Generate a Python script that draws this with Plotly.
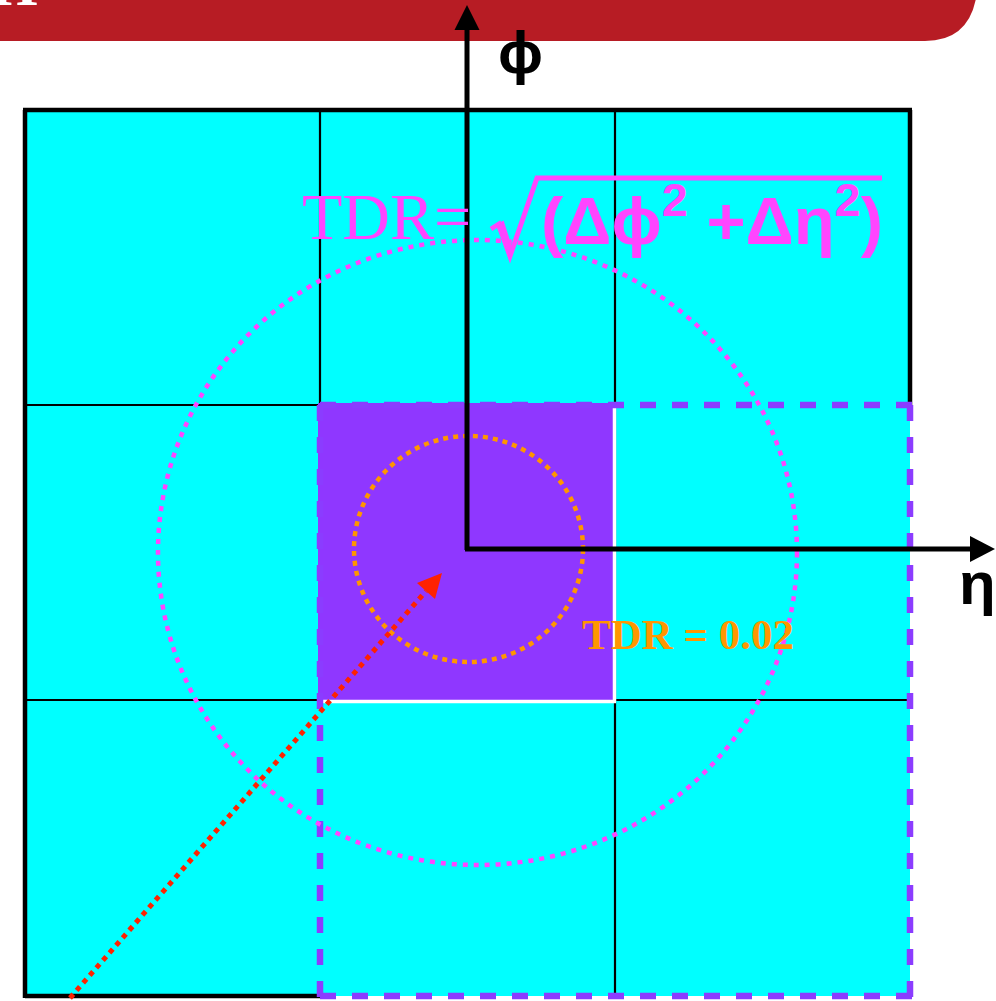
import plotly.graph_objects as go

# ---- diagram geometry (pixel space of the sketch) ----
grid_x = [25, 320, 615, 910]          # column edges of the 3x3 tower grid
grid_y = [110, 405, 700, 996]         # row edges
center_cell = (1, 1)                   # highlighted (purple) cell
dashed_cols = (1, 3)                   # dashed 2x2 region: col edge indices
dashed_rows = (1, 3)

axis_origin = (467, 548)               # origin of eta/phi axes
phi_tip_y = 5
eta_tip_x = 995

outer_circle = dict(cx=477.5, cy=552.5, rx=319.5, ry=312.5)
inner_circle = dict(cx=468.5, cy=549.0, rx=114.5, ry=113.0)

red_start = (70, 998)
red_tip = (442, 573)

formula_left = "TDR="
formula_right = "(Δϕ<sup>2</sup> +Δη<sup>2</sup>)"
inner_label = "TDR = 0.02"
phi_label = "ϕ"
eta_label = "η"
banner_glyph = "H"

CYAN = "#00FFFF"
PURPLE = "#8F37FF"
DASH_PURPLE = "#8B3CFF"
PINK = "#FF45FF"
ORANGE = "#FF9600"
RED = "#FF2200"
BANNER = "#B71C24"

W, H = 996, 1001
fig = go.Figure()
fig.add_trace(go.Scatter(x=[0, W], y=[0, H], mode="markers",
                         marker=dict(opacity=0), hoverinfo="skip", showlegend=False))

shapes = []


def seg(x0, y0, x1, y1, color, width, dash=None):
    ln = dict(color=color, width=width)
    if dash:
        ln["dash"] = dash
    shapes.append(dict(type="line", x0=x0, y0=y0, x1=x1, y1=y1, line=ln, layer="above"))


# banner
shapes.append(dict(type="path", path="M -5 -20 L 978 -20 Q 976 41 925 41 L -5 41 Z",
                   fillcolor=BANNER, line=dict(width=0), layer="above"))

# cyan cells
shapes.append(dict(type="rect", x0=grid_x[0], x1=grid_x[-1], y0=grid_y[0], y1=grid_y[-1],
                   fillcolor=CYAN, line=dict(width=0), layer="above"))

# inner grid lines
seg(grid_x[1], grid_y[0], grid_x[1], grid_y[2], "black", 2.2)
seg(grid_x[2], grid_y[0], grid_x[2], grid_y[3], "black", 2.2)
seg(grid_x[0], grid_y[1], grid_x[1], grid_y[1], "black", 2.2)
seg(grid_x[0], grid_y[2], grid_x[3], grid_y[2], "black", 2.2)

# outer border (only where not covered by the dashed region)
seg(grid_x[0] - 2, grid_y[0], grid_x[3] + 2, grid_y[0], "black", 4.5)
seg(grid_x[0], grid_y[0], grid_x[0], grid_y[3] + 2, "black", 4.5)
seg(grid_x[3], grid_y[0], grid_x[3], grid_y[1], "black", 4.5)
seg(grid_x[0], grid_y[3], grid_x[1], grid_y[3], "black", 4.5)

# highlighted cell
ci, cj = center_cell
cx0, cx1 = grid_x[ci] - 2, grid_x[ci + 1] - 2
cy0, cy1 = grid_y[cj] - 2, grid_y[cj + 1]
shapes.append(dict(type="rect", x0=cx0, x1=cx1, y0=cy0, y1=cy1,
                   fillcolor=PURPLE, line=dict(width=0), layer="above"))
seg(cx1 + 1.5, cy0, cx1 + 1.5, cy1 + 1.5, "white", 3.5)
seg(cx0 + 3, cy1 + 1.5, cx1 + 3, cy1 + 1.5, "white", 3.5)

# dashed 2x2 region
dx0, dx1 = grid_x[dashed_cols[0]], grid_x[dashed_cols[1]]
dy0, dy1 = grid_y[dashed_rows[0]], grid_y[dashed_rows[1]]
dp = "16px,16px"
seg(dx0, dy0, dx1 + 3, dy0, DASH_PURPLE, 6.5, dp)
seg(dx0, dy1, dx1 + 3, dy1, DASH_PURPLE, 6.5, dp)
seg(dx0, dy0, dx0, dy1 + 3, DASH_PURPLE, 6.5, dp)
seg(dx1, dy0, dx1, dy1 + 3, DASH_PURPLE, 6.5, dp)

# circles
for c, col, dash in [(outer_circle, PINK, "5px,6px"), (inner_circle, ORANGE, "5px,5px")]:
    shapes.append(dict(type="circle", x0=c["cx"] - c["rx"], x1=c["cx"] + c["rx"],
                       y0=c["cy"] - c["ry"], y1=c["cy"] + c["ry"],
                       line=dict(color=col, width=4.5, dash=dash), layer="above"))

# phi / eta axes
ox, oy = axis_origin
seg(ox, oy + 2, ox, phi_tip_y + 20, "black", 5)
shapes.append(dict(type="path",
                   path=f"M {ox} {phi_tip_y} L {ox-12.5} {phi_tip_y+25} L {ox+12.5} {phi_tip_y+25} Z",
                   fillcolor="black", line=dict(width=0), layer="above"))
seg(ox - 2, oy + 1, eta_tip_x - 20, oy + 1, "black", 5)
shapes.append(dict(type="path",
                   path=f"M {eta_tip_x} {oy+1} L {eta_tip_x-25} {oy-12} L {eta_tip_x-25} {oy+14} Z",
                   fillcolor="black", line=dict(width=0), layer="above"))

# red dotted arrow
sx, sy = red_start
tx, ty = red_tip
bx, by = tx - 16, ty + 18
seg(sx, sy, bx, by, RED, 5, "5px,5px")
shapes.append(dict(type="path", path=f"M {tx} {ty} L {tx-25} {ty+10} L {tx-7} {ty+26} Z",
                   fillcolor=RED, line=dict(width=0), layer="above"))

# radical sign + overline
shapes.append(dict(type="path", path="M 491 229 L 499 224 L 510 256 L 537 178 L 882 178",
                   line=dict(color=PINK, width=5), layer="above"))
shapes.append(dict(type="path", path="M 497 225 L 503 222 L 512 250 L 509 257 Z",
                   fillcolor=PINK, line=dict(color=PINK, width=2), layer="above"))

annotations = [
    dict(x=300, y=216, text=formula_left, xanchor="left", yanchor="middle", showarrow=False,
         font=dict(family="Liberation Serif", size=66, color=PINK)),
    dict(x=539, y=216, text=formula_right, xanchor="left", yanchor="middle", showarrow=False,
         font=dict(family="Liberation Sans", size=67, color=PINK, weight="bold")),
    dict(x=580, y=634, text=inner_label, xanchor="left", yanchor="middle", showarrow=False,
         font=dict(family="Liberation Serif", size=43, color=ORANGE, weight="bold")),
    dict(x=520, y=52, text=phi_label, xanchor="center", yanchor="middle", showarrow=False,
         font=dict(family="Liberation Sans", size=60, color="black", weight="bold")),
    dict(x=977, y=583, text=eta_label, xanchor="center", yanchor="middle", showarrow=False,
         font=dict(family="Liberation Sans", size=60, color="black", weight="bold")),
    dict(x=14, y=20, text=banner_glyph, xanchor="center", yanchor="bottom", showarrow=False,
         font=dict(family="Liberation Serif", size=60, color="white", weight="bold")),
]
for a in annotations:
    a["xref"] = "x"
    a["yref"] = "y"

fig.update_layout(
    width=W, height=H, margin=dict(l=0, r=0, t=0, b=0),
    paper_bgcolor="white", plot_bgcolor="white",
    xaxis=dict(range=[0, W], visible=False, fixedrange=True),
    yaxis=dict(range=[H, 0], visible=False, fixedrange=True),
    shapes=shapes, annotations=annotations, showlegend=False,
)
fig.write_html("out.html", config={"displayModeBar": False},
               post_script="document.body.style.margin='0';")
